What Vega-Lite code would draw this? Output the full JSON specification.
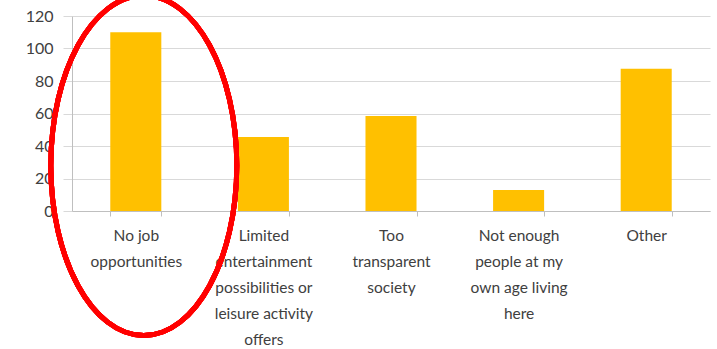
{
  "$schema": "https://vega.github.io/schema/vega-lite/v6.json",
  "width": 638,
  "height": 195,
  "autosize": {"type": "none"},
  "padding": {"left": 72, "top": 16, "right": 7, "bottom": 138},
  "background": "white",
  "config": {"view": {"stroke": null}, "font": "Lato"},
  "data": {
    "values": [
      {"reason": "No job opportunities", "count": 110},
      {"reason": "Limited entertainment possibilities or leisure activity offers", "count": 45.5},
      {"reason": "Too transparent society", "count": 58.5},
      {"reason": "Not enough people at my own age living here", "count": 13},
      {"reason": "Other", "count": 87.5}
    ]
  },
  "encoding": {
    "x": {
      "field": "reason",
      "type": "nominal",
      "sort": null,
      "scale": {"paddingInner": 0.6, "paddingOuter": 0.3},
      "axis": {
        "title": null,
        "labelAngle": 0,
        "labelFont": "Lato",
        "labelFontSize": 15.5,
        "labelColor": "#404040",
        "labelLineHeight": 26,
        "labelPadding": 12,
        "labelBaseline": "top",
        "labelLimit": 0,
        "labelOverlap": false,
        "domainColor": "#BFBFBF",
        "tickColor": "#BFBFBF",
        "tickBand": "extent",
        "tickSize": 5,
        "labelExpr": "datum.value == 'No job opportunities' ? ['No job','opportunities'] : datum.value == 'Too transparent society' ? ['Too','transparent','society'] : datum.value == 'Not enough people at my own age living here' ? ['Not enough','people at my','own age living','here'] : datum.value == 'Other' ? 'Other' : datum.value == 'Limited entertainment possibilities or leisure activity offers' ? ['Limited','entertainment','possibilities or','leisure activity','offers'] : ''"
      }
    }
  },
  "layer": [
    {
      "mark": {"type": "bar", "color": "#FFC000"},
      "encoding": {
        "y": {
          "field": "count",
          "type": "quantitative",
          "scale": {"domain": [0, 120]},
          "axis": {
            "title": null,
            "values": [0, 20, 40, 60, 80, 100, 120],
            "labelFont": "Lato",
            "labelFontSize": 16,
            "labelColor": "#404040",
            "labelPadding": 10,
            "labelOverlap": false,
            "gridColor": "#D9D9D9",
            "domainColor": "#BFBFBF",
            "tickColor": "#D9D9D9",
            "tickSize": 9
          }
        }
      }
    },
    {
      "mark": {
        "type": "point",
        "shape": "M -0.547,0 A 0.547,1 0 1,0 0.547,0 A 0.547,1 0 1,0 -0.547,0 Z",
        "filled": false,
        "stroke": "#FF0000",
        "strokeWidth": 5,
        "opacity": 1,
        "size": 115600,
        "xOffset": 8
      },
      "encoding": {
        "x": {"datum": "No job opportunities"},
        "y": {
          "datum": 28,
          "type": "quantitative",
          "scale": {"domain": [0, 120]},
          "axis": {
            "title": null,
            "values": [0, 20, 40, 60, 80, 100, 120],
            "labelFont": "Lato",
            "labelFontSize": 16,
            "labelColor": "#404040",
            "labelPadding": 10,
            "labelOverlap": false,
            "gridColor": "#D9D9D9",
            "domainColor": "#BFBFBF",
            "tickColor": "#D9D9D9",
            "tickSize": 9
          }
        }
      }
    }
  ]
}
